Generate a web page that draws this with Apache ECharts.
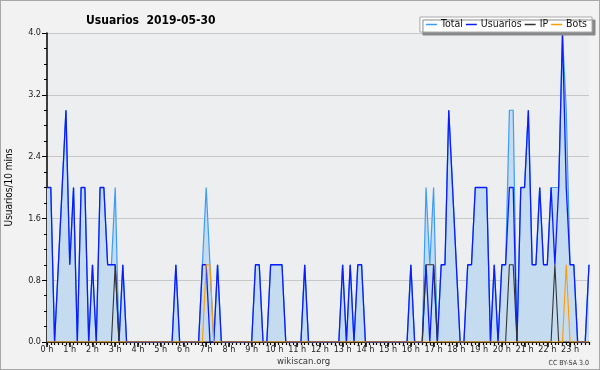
<!DOCTYPE html>
<html><head><meta charset="utf-8">
<script src="https://cdn.jsdelivr.net/npm/echarts@6/dist/echarts.min.js"></script>
<style>
html,body{margin:0;padding:0;background:#f2f2f2;}
#c{width:600px;height:370px;box-sizing:border-box;border:1px solid #a8a8a8;}
</style></head>
<body><div id="c"></div>
<script>
// 10-minute slots over the day (0:00 .. 23:50)
const hourLabels = ['0 h','1 h','2 h','3 h','4 h','5 h','6 h','7 h','8 h','9 h','10 h','11 h','12 h','13 h','14 h','15 h','16 h','17 h','18 h','19 h','20 h','21 h','22 h','23 h'];
const yTicks = [0, 0.8, 1.6, 2.4, 3.2, 4.0];
const seriesNames = ['Total','Usuarios','IP','Bots'];

const usuarios = [
 2,2,0,1,2,3, 1,2,0,2,2,0, 1,0,2,2,1,1, 1,0,1,0,0,0,
 0,0,0,0,0,0, 0,0,0,0,1,0, 0,0,0,0,0,1, 1,0,0,1,0,0,
 0,0,0,0,0,0, 0,1,1,0,0,1, 1,1,1,0,0,0, 0,0,1,0,0,0,
 0,0,0,0,0,0, 1,0,1,0,1,1, 0,0,0,0,0,0, 0,0,0,0,0,0,
 1,0,0,0,1,0, 1,0,1,1,3,2, 1,0,0,1,1,2, 2,2,2,0,1,0,
 1,1,2,2,0,2, 2,3,1,1,2,1, 1,2,1,2,4,2, 1,1,0,0,0,1
];
const ip = [
 0,0,0,0,0,0, 0,0,0,0,0,0, 0,0,0,0,0,0, 1,0,0,0,0,0,
 0,0,0,0,0,0, 0,0,0,0,0,0, 0,0,0,0,0,0, 0,0,0,0,0,0,
 0,0,0,0,0,0, 0,0,0,0,0,0, 0,0,0,0,0,0, 0,0,0,0,0,0,
 0,0,0,0,0,0, 0,0,0,0,0,0, 0,0,0,0,0,0, 0,0,0,0,0,0,
 0,0,0,0,1,1, 1,0,0,0,0,0, 0,0,0,0,0,0, 0,0,0,0,0,0,
 0,0,1,1,0,0, 0,0,0,0,0,0, 0,0,1,0,0,0, 0,0,0,0,0,0
];
const bots = [
 0,0,0,0,0,0, 0,0,0,0,0,0, 0,0,0,0,0,0, 0,0,0,0,0,0,
 0,0,0,0,0,0, 0,0,0,0,0,0, 0,0,0,0,0,0, 1,1,0,0,0,0,
 0,0,0,0,0,0, 0,0,0,0,0,0, 0,0,0,0,0,0, 0,0,0,0,0,0,
 0,0,0,0,0,0, 0,0,0,0,0,0, 0,0,0,0,0,0, 0,0,0,0,0,0,
 0,0,0,0,0,0, 0,0,0,0,0,0, 0,0,0,0,0,0, 0,0,0,0,0,0,
 0,0,0,0,0,0, 0,0,0,0,0,0, 0,0,0,0,0,1, 0,0,0,0,0,0
];
const total = [
 2,2,0,1,2,3, 1,2,0,2,2,0, 1,0,2,2,1,1, 2,0,1,0,0,0,
 0,0,0,0,0,0, 0,0,0,0,1,0, 0,0,0,0,0,1, 2,1,0,1,0,0,
 0,0,0,0,0,0, 0,1,1,0,0,1, 1,1,1,0,0,0, 0,0,1,0,0,0,
 0,0,0,0,0,0, 1,0,1,0,1,1, 0,0,0,0,0,0, 0,0,0,0,0,0,
 1,0,0,0,2,1, 2,0,1,1,3,2, 1,0,0,1,1,2, 2,2,2,0,1,0,
 1,1,3,3,0,2, 2,3,1,1,2,1, 1,2,2,2,4,3, 1,1,0,0,0,1
];

const categories = [];
for (let h = 0; h < 24; h++) for (let m = 0; m < 60; m += 10) categories.push(h + ':' + (m < 10 ? '0' : '') + m);

const FONT = '"DejaVu Sans Condensed", "DejaVu Sans", sans-serif';
const chart = echarts.init(document.getElementById('c'), null, {renderer:'canvas'});
chart.setOption({
  backgroundColor: '#f2f2f2',
  animation: false,
  textStyle: {fontFamily: FONT},
  title: {
    text: 'Usuarios  2019-05-30', left: 80, top: 9,
    textStyle: {fontFamily: FONT, fontWeight: 'bold', fontSize: 12, color: '#000'}
  },
  legend: {
    data: seriesNames, right: 7, top: 16, orient: 'horizontal',
    backgroundColor: '#fff', borderColor: '#aaa', borderWidth: 1,
    padding: [2, 5, 2, 6], itemGap: 3, itemWidth: 11, itemHeight: 1.5, icon: 'rect',
    shadowColor: '#888', shadowOffsetX: 3, shadowOffsetY: 3, shadowBlur: 0,
    textStyle: {fontFamily: FONT, fontSize: 10.5, color: '#111', padding: [0, 0, 0, -1]}
  },
  grid: {left: 46, right: 10, top: 32, bottom: 27, show: true, backgroundColor: '#edeef0', borderWidth: 0,
         containLabel: false, outerBoundsMode: 'none'},
  xAxis: [{
    type: 'category', data: categories, boundaryGap: false, position: 'bottom', offset: 0,
    axisLine: {show: true, lineStyle: {color: '#000', width: 1}},
    axisTick: {show: true, interval: 5, length: 5, lineStyle: {color: '#000', width: 1.5}},
    axisLabel: {interval: 5, margin: 3, fontSize: 9, color: '#222', fontFamily: FONT,
      formatter: (v, i) => (i % 6 === 0 ? hourLabels[i / 6] : '')},
    splitLine: {show: false}
  }, {
    type: 'category', data: categories, boundaryGap: false, position: 'bottom', offset: 0,
    axisLine: {show: false},
    axisTick: {show: true, interval: 0, length: 3, lineStyle: {color: '#000', width: 1.2}},
    axisLabel: {show: false}, splitLine: {show: false}
  }],
  yAxis: {
    type: 'value', min: yTicks[0], max: yTicks[yTicks.length - 1], interval: 0.8,
    name: 'Usuarios/10 mins', nameLocation: 'middle', nameRotate: 90, nameGap: 33,
    nameTextStyle: {fontFamily: FONT, fontSize: 10, color: '#000'},
    axisLine: {show: true, lineStyle: {color: '#000', width: 1.5}},
    axisTick: {show: true, length: 5, lineStyle: {color: '#000'}},
    minorTick: {show: true, splitNumber: 4, length: 3, lineStyle: {color: '#000'}},
    axisLabel: {fontSize: 9, color: '#222', margin: 6, fontFamily: FONT, formatter: v => v.toFixed(1)},
    splitLine: {show: true, lineStyle: {color: '#c8c8c8', width: 1}}
  },
  series: [
    {name: 'Total', type: 'line', data: total, showSymbol: false, symbol: 'none',
     lineStyle: {color: '#3d9cf5', width: 1.2}, itemStyle: {color: '#3d9cf5'},
     areaStyle: {color: '#c4dbf0', opacity: 1}, z: 2},
    {name: 'Usuarios', type: 'line', data: usuarios, showSymbol: false, symbol: 'none',
     lineStyle: {color: '#0a1cff', width: 1.3}, itemStyle: {color: '#0a1cff'}, z: 3},
    {name: 'IP', type: 'line', data: ip, showSymbol: false, symbol: 'none',
     lineStyle: {color: '#333', width: 1.1}, itemStyle: {color: '#333'}, z: 4},
    {name: 'Bots', type: 'line', data: bots, showSymbol: false, symbol: 'none',
     lineStyle: {color: '#ff9a00', width: 1.1}, itemStyle: {color: '#ff9a00'}, z: 5}
  ],
  graphic: [
    {type: 'text', left: 276, top: 356, style: {text: 'wikiscan.org', font: '9.5px ' + FONT, fill: '#333'}},
    {type: 'text', right: 10, top: 359, style: {text: 'CC BY-SA 3.0', font: '7px ' + FONT, fill: '#333'}}
  ]
});
</script></body></html>
